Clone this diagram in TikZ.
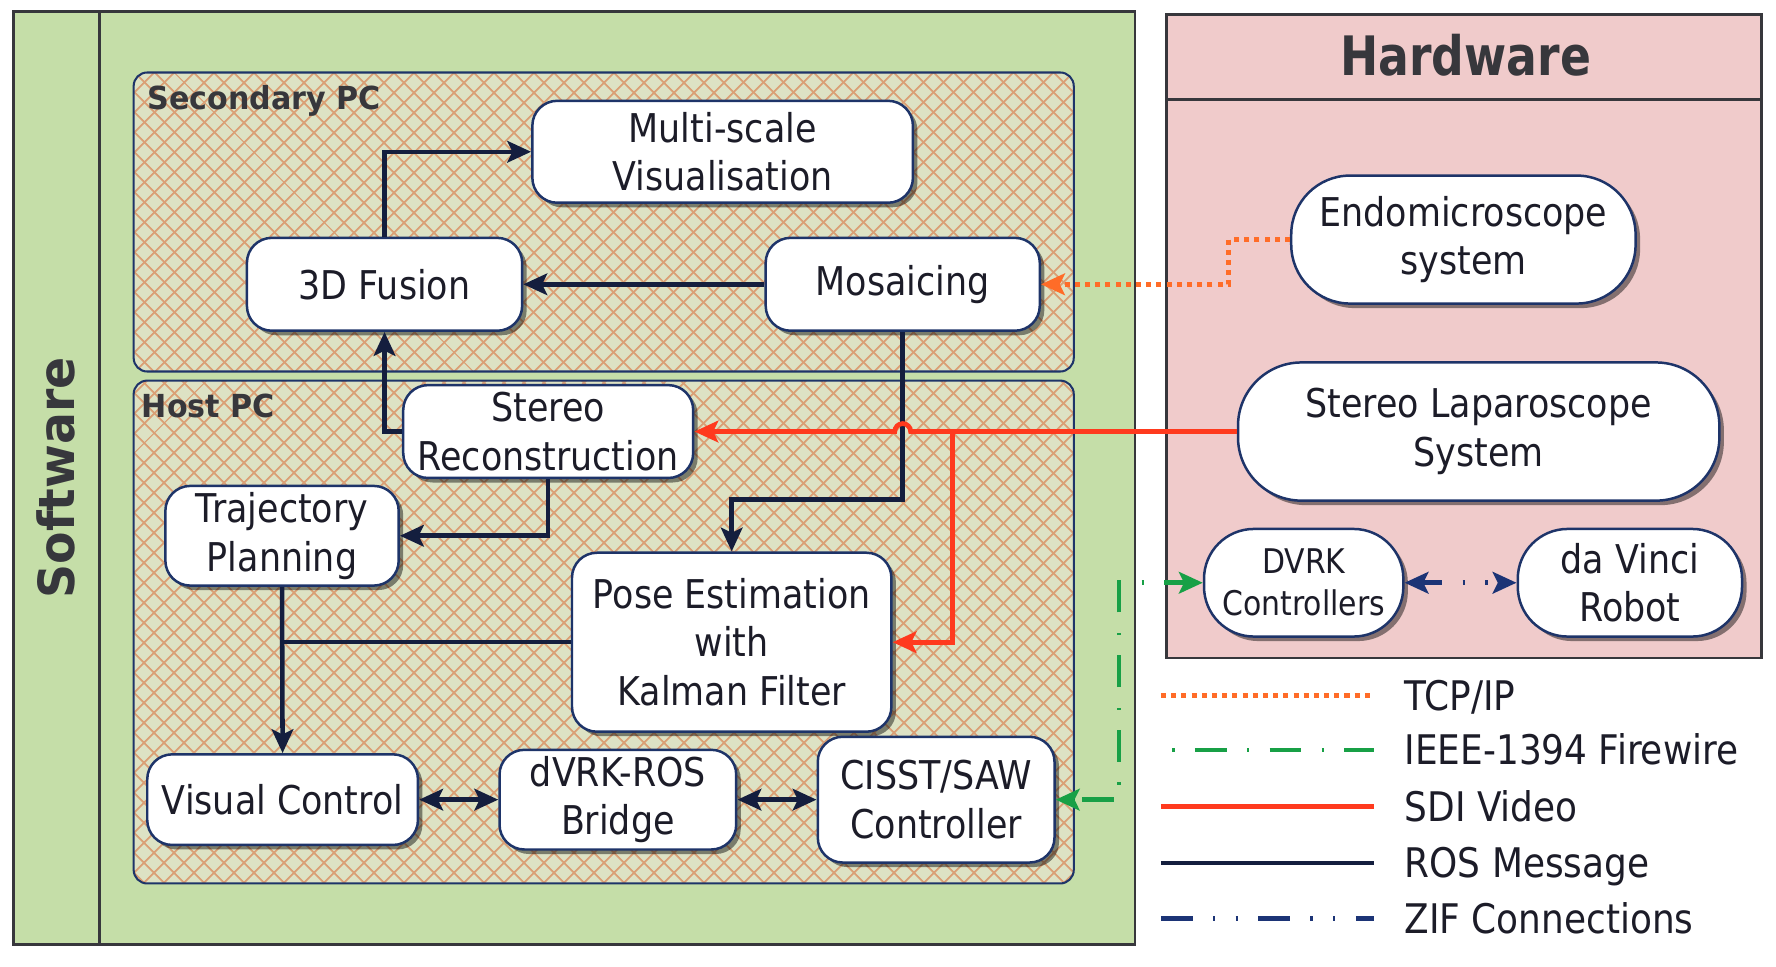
\documentclass[tikz,border=0pt]{standalone}
\usepackage{fontspec}
\setmainfont{DejaVu Sans}[FakeStretch=0.88]
\newfontfamily\lblfont{DejaVu Sans}[FakeStretch=0.95]
\newfontfamily\hwfont{DejaVu Sans}[FakeStretch=0.84]
\usetikzlibrary{arrows.meta,shadows,patterns.meta}
\definecolor{swgreen}{RGB}{197,222,168}
\definecolor{hwpink}{RGB}{240,203,203}
\definecolor{pcbg}{RGB}{221,226,196}
\definecolor{pcpat}{RGB}{218,160,118}
\definecolor{navy}{RGB}{20,30,62}
\definecolor{bord}{RGB}{30,52,105}
\definecolor{sdired}{RGB}{255,58,30}
\definecolor{tcporange}{RGB}{255,108,40}
\definecolor{fwgreen}{RGB}{24,160,70}
\definecolor{zifblue}{RGB}{28,52,118}
\definecolor{txt}{RGB}{28,28,40}
\definecolor{framec}{RGB}{55,55,60}
\tikzset{
  mytip/.tip={Stealth[length=21pt,width=19pt,inset=4.5pt]},
  box/.style={draw=bord, line width=2.2pt, fill=white, text=txt, align=center,
    rounded corners=22pt, inner sep=0pt,
    font=\fontsize{35}{43}\selectfont,
    drop shadow={shadow xshift=4pt, shadow yshift=-4pt, fill=black, opacity=0.45}},
  hwbox/.style={box, rounded corners=48pt},
  pcframe/.style={draw=bord, line width=1.8pt, rounded corners=12pt},
  ros/.style={draw=navy, line width=4pt},
  sdi/.style={draw=sdired, line width=4.2pt},
  tcp/.style={draw=tcporange, line width=4.6pt, dash pattern=on 4.5pt off 4.5pt},
  fw/.style={draw=fwgreen, line width=4pt, dash pattern=on 2pt off 18pt on 28pt off 18pt},
  zif/.style={draw=zifblue, line width=4.2pt, dash pattern=on 28pt off 18pt on 2pt off 18pt on 2pt off 18pt},
  legtext/.style={anchor=base west, text=txt, inner sep=0pt, font=\fontsize{36}{40}\selectfont},
}
\begin{document}
\begin{tikzpicture}[x=1pt,y=-1pt]
\useasboundingbox (0,0) rectangle (1568,853);
% Software panel
\fill[swgreen] (12,10) rectangle (1002,834);
\draw[framec, line width=2.4pt] (12,10) rectangle (1002,834);
\draw[framec, line width=2.4pt] (88,10) -- (88,834);
\node[rotate=90, text=framec, font=\lblfont\bfseries\fontsize{44}{50}\selectfont] (swlabel) at (49,422) {Software};
% Hardware panel
\fill[hwpink] (1030,13) rectangle (1555,581);
\draw[framec, line width=2.4pt] (1030,13) rectangle (1555,581);
\draw[framec, line width=2.4pt] (1030,88) -- (1555,88);
\node[text=framec, font=\hwfont\bfseries\fontsize{48}{52}\selectfont] (hwlabel) at (1294,49) {Hardware};
% PC boxes
\foreach \ya/\yb in {64/328, 336/780}{
  \fill[pcbg, rounded corners=12pt] (118,\ya) rectangle (948,\yb);
  \fill[pattern={Lines[angle=45,distance=13pt,line width=1.8pt]}, pattern color=pcpat, rounded corners=12pt] (118,\ya) rectangle (948,\yb);
  \fill[pattern={Lines[angle=-45,distance=13pt,line width=1.8pt]}, pattern color=pcpat, rounded corners=12pt] (118,\ya) rectangle (948,\yb);
  \draw[pcframe] (118,\ya) rectangle (948,\yb);
}
\node[anchor=base west, inner sep=0pt, text=framec, font=\lblfont\bfseries\fontsize{28}{30}\selectfont] (seclabel) at (130,97) {Secondary PC};
\node[anchor=base west, inner sep=0pt, text=framec, font=\lblfont\bfseries\fontsize{28}{30}\selectfont] (hostlabel) at (125,369) {Host PC};
% Software nodes
\node[box, minimum width=336pt, minimum height=90pt] (multi) at (638,134) {Multi-scale\\Visualisation};
\node[box, minimum width=243pt, minimum height=82pt] (fusion) at (339.5,251) {3D Fusion};
\node[box, minimum width=242pt, minimum height=82pt] (mosaic) at (797,251) {Mosaicing};
\node[box, minimum width=256pt, minimum height=82pt] (stereo) at (484,381) {Stereo\\Reconstruction};
\node[box, minimum width=206pt, minimum height=88pt] (traj) at (249,473) {Trajectory\\Planning};
\node[box, minimum width=282pt, minimum height=158pt] (pose) at (646,567) {Pose Estimation\\with\\Kalman Filter};
\node[box, minimum width=239pt, minimum height=80pt] (visual) at (249.5,706) {Visual Control};
\node[box, minimum width=209pt, minimum height=88pt] (bridge) at (545.5,706) {dVRK-ROS\\Bridge};
\node[box, minimum width=209pt, minimum height=111pt] (cisst) at (826.5,706) {CISST/SAW\\Controller};
% Hardware nodes
\node[hwbox, rounded corners=52pt, minimum width=304pt, minimum height=113pt] (endo) at (1292,211.5) {Endomicroscope\\system};
\node[hwbox, rounded corners=56pt, minimum width=425pt, minimum height=122pt] (lap) at (1305.5,381) {Stereo Laparoscope\\System};
\node[hwbox, rounded corners=44pt, minimum width=176pt, minimum height=95pt, font=\fontsize{30}{37}\selectfont] (dvrk) at (1151,514.5) {DVRK\\Controllers};
\node[hwbox, rounded corners=44pt, minimum width=198pt, minimum height=95pt] (davinci) at (1439,514.5) {da Vinci\\Robot};
% ROS connectors
\draw[ros, -{mytip}] (fusion.north) |- (multi.west);
\draw[ros, -{mytip}] (mosaic.west) -- (fusion.east);
\draw[ros, -{mytip}] (stereo.west) -| (fusion.south);
\draw[ros, -{mytip}] (stereo.south) |- (traj.east);
\draw[ros, -{mytip}] (mosaic.south) -- ++(0,148) -| (pose.north);
\draw[ros, -{mytip}] (traj.south) -- (visual.north);
\draw[ros] (pose.west) -- (traj.south |- pose.west);
\draw[ros, {mytip}-{mytip}] (visual.east) -- (bridge.west);
\draw[ros, {mytip}-{mytip}] (bridge.east) -- (cisst.west);
% SDI video
\coordinate (sdibr) at (841,381);
\draw[sdi, -{mytip}] (lap.west) -- ([xshift=7pt]mosaic.south |- lap.west) arc[start angle=0, end angle=-180, radius=7] -- (stereo.east);
\draw[sdi, -{mytip}] (sdibr) |- (pose.east);
% TCP/IP
\draw[tcp, -{mytip}] (endo.west) -- ++(-54,0) |- (mosaic.east);
% Firewire
\draw[fw, dash phase=12pt, {mytip}-{mytip}] (cisst.east) -- ++(56,0) |- (dvrk.west);
% ZIF
\draw[zif, dash phase=10pt, {mytip}-{mytip}] (dvrk.east) -- (davinci.west);
% Legend
\coordinate (l1a) at (1025,614); \coordinate (l1b) at (1213,614);
\coordinate (l2a) at (1025,662); \coordinate (l2b) at (1213,662);
\coordinate (l3a) at (1025,712); \coordinate (l3b) at (1213,712);
\coordinate (l4a) at (1025,762); \coordinate (l4b) at (1213,762);
\coordinate (l5a) at (1025,811); \coordinate (l5b) at (1213,811);
\draw[tcp] (l1a) -- (l1b);
\draw[fw, dash phase=-10pt] (l2a) -- (l2b);
\draw[sdi] (l3a) -- (l3b);
\draw[ros, line width=4.2pt] (l4a) -- (l4b);
\draw[zif] (l5a) -- (l5b);
\node[legtext] (t1) at (1240,627) {TCP/IP};
\node[legtext] (t2) at (1240,675) {IEEE-1394 Firewire};
\node[legtext] (t3) at (1240,725) {SDI Video};
\node[legtext] (t4) at (1240,775) {ROS Message};
\node[legtext] (t5) at (1240,824) {ZIF Connections};
\end{tikzpicture}
\end{document}
